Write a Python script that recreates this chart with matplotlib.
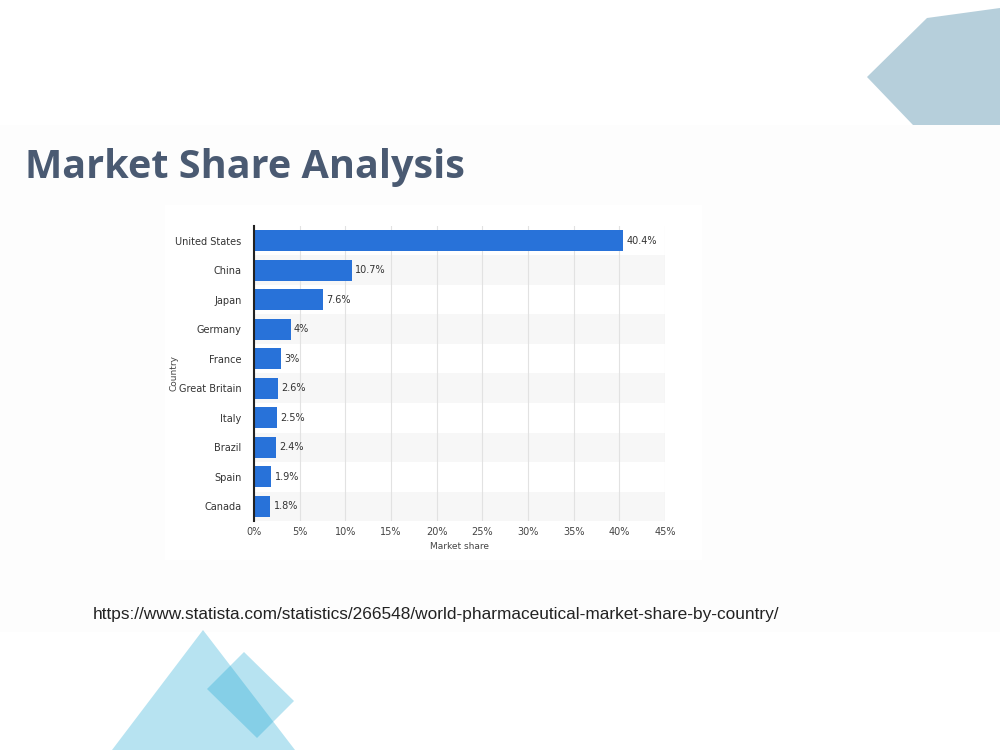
import matplotlib.pyplot as plt
from matplotlib.patches import Polygon, Rectangle

countries = ["United States", "China", "Japan", "Germany", "France",
             "Great Britain", "Italy", "Brazil", "Spain", "Canada"]
share = [40.4, 10.7, 7.6, 4, 3, 2.6, 2.5, 2.4, 1.9, 1.8]
labels = ["40.4%", "10.7%", "7.6%", "4%", "3%", "2.6%", "2.5%", "2.4%", "1.9%", "1.8%"]
xticks = [0, 5, 10, 15, 20, 25, 30, 35, 40, 45]

fig = plt.figure(figsize=(10, 7.5), dpi=100)

# slide background, pixel coordinates
bg = fig.add_axes([0, 0, 1, 1])
bg.set_xlim(0, 1000)
bg.set_ylim(750, 0)
bg.axis("off")
bg.add_patch(Rectangle((0, 125), 1000, 507, color="#fdfdfd", lw=0))
bg.add_patch(Rectangle((165, 205), 537, 355, color="white", lw=0))
bg.add_patch(Polygon([(867, 77), (927, 18), (1000, 8), (1000, 125), (913, 125)],
                     closed=True, color="#b6cfdb", lw=0))
bg.add_patch(Polygon([(203, 630), (112, 750), (295, 750)], closed=True,
                     color="#17a5d2", alpha=0.31, lw=0))
bg.add_patch(Polygon([(244, 652), (294, 701), (257, 738), (207, 689)], closed=True,
                     color="#17a5d2", alpha=0.31, lw=0))
bg.text(25, 178, "Market Share Analysis", fontsize=28.5, fontweight="bold",
        color="#4a5a72", family="Open Sans", va="baseline")
bg.text(93, 614, "https://www.statista.com/statistics/266548/world-pharmaceutical-market-share-by-country/",
        fontsize=12.4, color="#222222", family="Liberation Sans", va="center")

# bar chart
ax = fig.add_axes([0.254, 0.3053, 0.411, 0.3934])
ypos = list(range(len(countries)))
for i in ypos:
    if i % 2 == 1:
        ax.axhspan(i - 0.5, i + 0.5, color="#f7f7f7", lw=0, zorder=0)
ax.barh(ypos, share, height=0.7, color="#2872d9", zorder=3)
for i, v in enumerate(share):
    ax.text(v + 0.35, i, labels[i], va="center", ha="left", fontsize=7, color="#333333")
ax.set_xlim(0, 45)
ax.set_ylim(9.5, -0.5)
ax.set_xticks(xticks)
ax.set_xticklabels([f"{t}%" for t in xticks], fontsize=7, color="#444444")
ax.set_yticks(ypos)
ax.set_yticklabels(countries, fontsize=7, color="#333333")
ax.tick_params(axis="y", length=0, pad=9)
ax.tick_params(axis="x", length=0, pad=4)
ax.grid(axis="x", color="#e2e2e2", lw=0.8, zorder=1)
ax.set_axisbelow(True)
for s in ["top", "right", "bottom"]:
    ax.spines[s].set_visible(False)
ax.spines["left"].set_color("#222222")
ax.spines["left"].set_linewidth(1.5)
ax.spines["left"].set_zorder(4)
ax.patch.set_alpha(0)
ax.set_xlabel("Market share", fontsize=6.5, color="#444444", labelpad=4)
ax.set_ylabel("Country", fontsize=6.5, color="#444444", labelpad=-2)

fig.savefig("out.png", dpi=100)
